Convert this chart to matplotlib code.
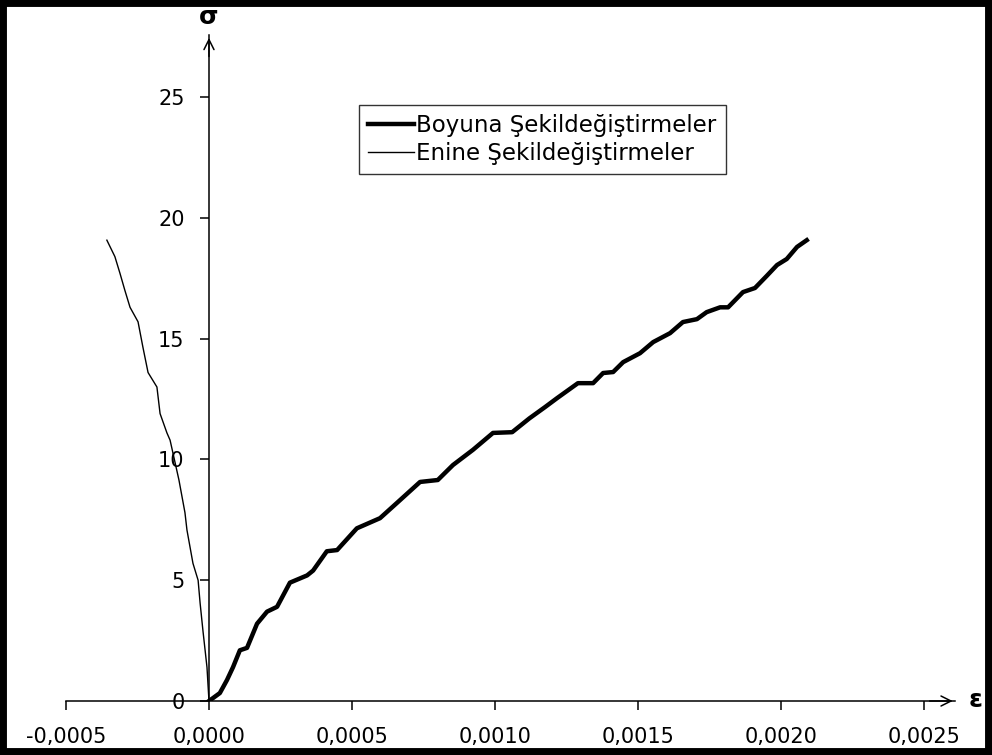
import matplotlib.pyplot as plt
from matplotlib.patches import Rectangle

# Longitudinal (boyuna) strain vs stress
boyuna_strain = [0, 0.000038, 0.000063, 0.000084, 0.000108, 0.000133, 0.000168,
                 0.000203, 0.000238, 0.000283, 0.000343, 0.000364, 0.000412,
                 0.000448, 0.000517, 0.000598, 0.000657, 0.000738, 0.0008,
                 0.000853, 0.000923, 0.000993, 0.00106, 0.00112, 0.001175,
                 0.001217, 0.00129, 0.001343, 0.001378, 0.001413, 0.001448,
                 0.001507, 0.001553, 0.001612, 0.001657, 0.001706, 0.00174,
                 0.001787, 0.001815, 0.001867, 0.001909, 0.00195, 0.001986,
                 0.00202, 0.002056, 0.00209]
boyuna_stress = [0, 0.33, 0.87, 1.4, 2.1, 2.2, 3.2, 3.7, 3.9, 4.9, 5.2, 5.4, 6.2,
                 6.25, 7.15, 7.57, 8.2, 9.07, 9.15, 9.77, 10.4, 11.1, 11.13,
                 11.7, 12.17, 12.54, 13.16, 13.16, 13.58, 13.62, 14.03, 14.4,
                 14.86, 15.23, 15.69, 15.81, 16.1, 16.3, 16.3, 16.93, 17.1,
                 17.6, 18.05, 18.3, 18.8, 19.08]

# Transverse (enine) strain vs stress
enine_strain = [0, -0.000007, -0.000021, -0.000031, -0.000038, -0.000056,
                -0.000077, -0.000084, -0.000105, -0.000136, -0.000147,
                -0.000171, -0.000182, -0.000213, -0.000231, -0.000248,
                -0.000276, -0.000294, -0.000311, -0.000329, -0.000357]
enine_stress = [0, 1.4, 2.9, 4.05, 5.0, 5.7, 7.08, 7.8, 9.15, 10.8, 11.1, 11.9,
                13.0, 13.6, 14.65, 15.7, 16.3, 17.0, 17.7, 18.4, 19.08]

x_ticks = [-0.0005, 0.0, 0.0005, 0.0010, 0.0015, 0.0020, 0.0025]
x_labels = ["-0,0005", "0,0000", "0,0005", "0,0010", "0,0015", "0,0020", "0,0025"]
y_ticks = [0, 5, 10, 15, 20, 25]
y_labels = ["0", "5", "10", "15", "20", "25"]

fig = plt.figure(figsize=(9.92, 7.55), dpi=100)
ax = fig.add_axes([0.0665, 0.0715, 0.8967, 0.882])

ax.plot(boyuna_strain, boyuna_stress, color="black", lw=3.2,
        label="Boyuna Şekildeğiştirmeler", solid_joinstyle="round")
ax.plot(enine_strain, enine_stress, color="black", lw=1.0,
        label="Enine Şekildeğiştirmeler")

xmax, ymax = 0.00261, 27.57
ax.set_xlim(-0.0005, xmax)
ax.set_ylim(0, ymax)

# Axes crossing at zero
ax.spines["top"].set_visible(False)
ax.spines["right"].set_visible(False)
ax.spines["left"].set_position(("data", 0))
ax.spines["bottom"].set_position(("data", 0))
for s in ("left", "bottom"):
    ax.spines[s].set_linewidth(1.1)

ax.set_xticks(x_ticks)
ax.set_xticklabels(x_labels)
ax.set_yticks(y_ticks)
ax.set_yticklabels(y_labels)
ax.tick_params(axis="both", direction="out", length=6.5, width=1.1,
               labelsize=15)
ax.tick_params(axis="x", pad=12)
ax.tick_params(axis="y", pad=11)

# Open arrow heads at the axis ends
ax.annotate("", xy=(0, ymax), xytext=(0, ymax - 1),
            arrowprops=dict(arrowstyle="->", lw=1.1, mutation_scale=18),
            annotation_clip=False)
ax.annotate("", xy=(xmax, 0), xytext=(xmax - 0.0001, 0),
            arrowprops=dict(arrowstyle="->", lw=1.1, mutation_scale=18),
            annotation_clip=False)

fig.text(209 / 992, 1 - 17 / 755, "σ", fontsize=18, fontweight="bold",
         ha="center", va="center")
fig.text(976 / 992, 1 - 700 / 755, "ε", fontsize=18, fontweight="bold",
         ha="center", va="center")

leg = ax.legend(loc="upper left", bbox_to_anchor=(359 / 992, 1 - 105 / 755),
                bbox_transform=fig.transFigure, fontsize=16.5, frameon=True,
                fancybox=False, handlelength=2.0, handletextpad=0.1,
                labelspacing=0.2, borderpad=0.4, borderaxespad=0)
leg.get_frame().set_edgecolor("black")
leg.get_frame().set_linewidth(1.0)

# Thick black frame around the whole picture
fig.patches.append(Rectangle((0, 0), 1, 1, transform=fig.transFigure,
                             fill=False, edgecolor="black", lw=10))

fig.savefig("out.png", dpi=100)
